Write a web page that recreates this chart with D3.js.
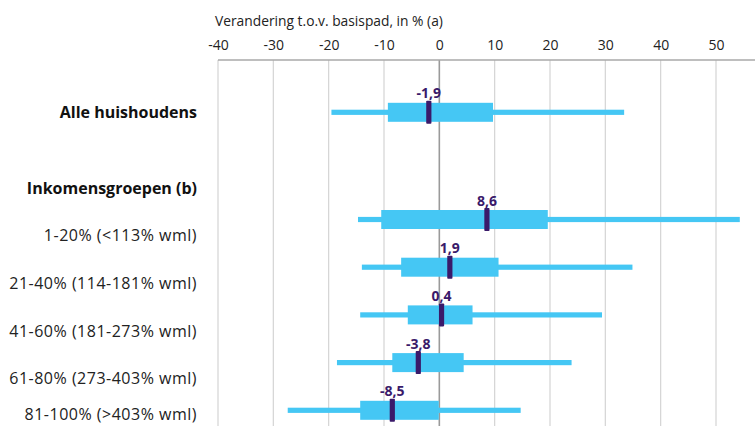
<!DOCTYPE html>
<html>
<head>
<meta charset="utf-8">
<script src="https://cdn.jsdelivr.net/npm/d3@7"></script>
<style>
  html, body { margin: 0; padding: 0; background: #fff; }
  svg { display: block; font-family: "Open Sans", "Noto Sans", sans-serif; }
</style>
</head>
<body>
<svg id="chart" width="755" height="426"></svg>
<script>
const categories = ["Alle huishoudens", "1-20% (<113% wml)", "21-40% (114-181% wml)", "41-60% (181-273% wml)", "61-80% (273-403% wml)", "81-100% (>403% wml)"];
const medians     = [-1.9, 8.6, 1.9, 0.4, -3.8, -8.5];
const boxLow      = [-9.3, -10.5, -6.9, -5.7, -8.5, -14.3];
const boxHigh     = [9.7, 19.6, 10.7, 6.0, 4.4, -0.1];
const whiskerLow  = [-19.5, -14.7, -14.0, -14.3, -18.5, -27.4];
const whiskerHigh = [33.4, 54.3, 34.9, 29.4, 23.9, 14.7];
const tickValues  = [-40, -30, -20, -10, 0, 10, 20, 30, 40, 50];
const groupHeader = "Inkomensgroepen (b)";
const axisTitle   = "Verandering t.o.v. basispad, in % (a)";

const W = 755, H = 426;
const svg = d3.select("#chart");
const blue = "#45c7f4", purple = "#3a1a6a", grid = "#d4d4d4";

const x = d3.scaleLinear().domain([-40, 50]).range([218, 716]);
const groupY = d3.scalePoint().domain(categories.slice(1)).range([219.5, 410.3]);
const yPos = c => c === categories[0] ? 112.3 : groupY(c);

const data = categories.map((c, i) => ({
  cat: c, med: medians[i], bl: boxLow[i], bh: boxHigh[i], wl: whiskerLow[i], wh: whiskerHigh[i]
}));

// gridlines
svg.append("g").selectAll("line").data(tickValues).join("line")
  .attr("x1", d => x(d)).attr("x2", d => x(d))
  .attr("y1", 60).attr("y2", H)
  .attr("stroke", d => d === 0 ? "#9a9a9a" : grid)
  .attr("stroke-width", d => d === 0 ? 1.6 : 1.2);

// top axis line
svg.append("line").attr("x1", x(-40)).attr("x2", W).attr("y1", 60).attr("y2", 60)
  .attr("stroke", "#a8a8a8").attr("stroke-width", 1.5);

// top axis tick labels
const axis = d3.axisTop(x).tickValues(tickValues).tickSize(0).tickPadding(0)
  .tickFormat(d => d3.format("d")(d).replace("−", "-"));
const ag = svg.append("g").attr("transform", "translate(0,50)").call(axis);
ag.select(".domain").remove();
ag.selectAll("text").attr("font-size", 14).attr("fill", "#222")
  .attr("font-family", "\"Open Sans\", sans-serif");

// axis title
svg.append("text").attr("x", 215).attr("y", 26).attr("font-size", 13.8).attr("fill", "#222")
  .text(axisTitle);

// whiskers
svg.append("g").selectAll("rect").data(data).join("rect")
  .attr("x", d => x(d.wl)).attr("width", d => x(d.wh) - x(d.wl))
  .attr("y", d => yPos(d.cat) - 2.6).attr("height", 5.2)
  .attr("fill", blue);

// boxes
svg.append("g").selectAll("rect").data(data).join("rect")
  .attr("x", d => x(d.bl)).attr("width", d => x(d.bh) - x(d.bl))
  .attr("y", d => yPos(d.cat) - 9.5).attr("height", 19)
  .attr("fill", blue);

// median bars
svg.append("g").selectAll("rect").data(data).join("rect")
  .attr("x", d => x(d.med) - 2.6).attr("width", 5.2)
  .attr("y", d => yPos(d.cat) - 11.5).attr("height", 23)
  .attr("rx", 0.8)
  .attr("fill", purple);

// median labels
svg.append("g").selectAll("text").data(data).join("text")
  .attr("x", d => x(d.med)).attr("y", d => yPos(d.cat) - 14)
  .attr("text-anchor", "middle").attr("font-size", 14).attr("font-weight", 700)
  .attr("fill", purple)
  .text(d => d3.format(".1f")(d.med).replace("−", "-").replace(".", ","));

// category labels
const lg = svg.append("g").attr("text-anchor", "end");
lg.append("text").attr("x", 197).attr("y", yPos(categories[0])).attr("dy", "0.35em")
  .attr("font-size", 16).attr("font-weight", 700).attr("fill", "#111").text(categories[0]);
lg.append("text").attr("x", 197).attr("y", 188.3).attr("dy", "0.35em")
  .attr("font-size", 16).attr("font-weight", 700).attr("fill", "#111").text(groupHeader);
lg.selectAll("text.grp").data(categories.slice(1)).join("text").attr("class", "grp")
  .attr("x", 197).attr("y", d => Math.min(groupY(d) + 16, 414)).attr("dy", "0.35em")
  .attr("font-size", 16).attr("letter-spacing", "0.5px").attr("fill", "#222").text(d => d);
</script>
</body>
</html>
